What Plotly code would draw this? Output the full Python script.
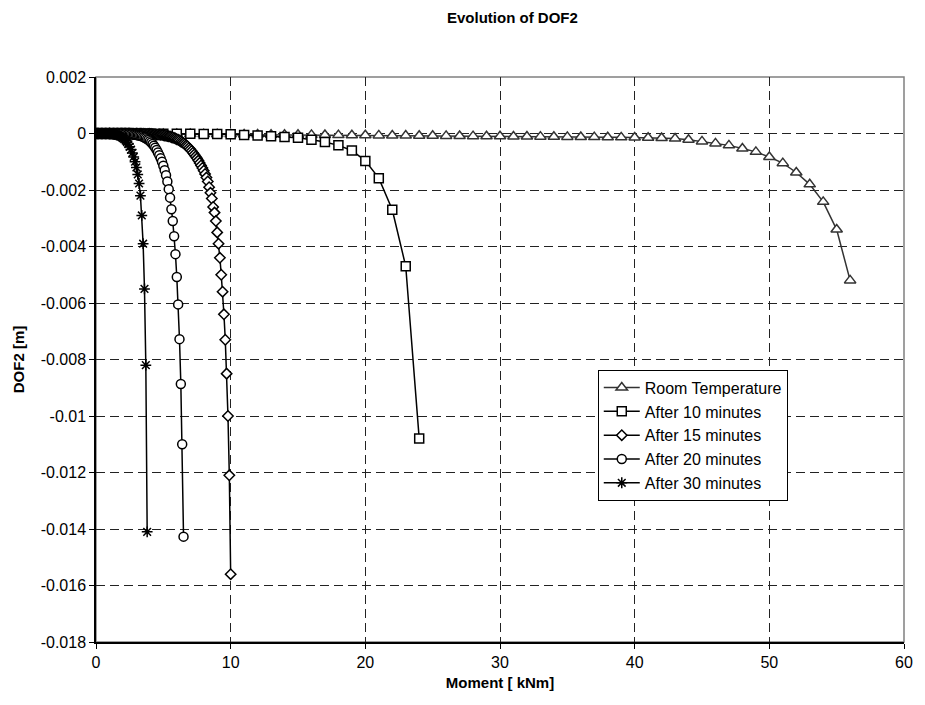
import plotly.graph_objects as go

# ---- data: moment [kNm] vs. DOF2 [m] ----
room_moment = [0, 1, 2, 3, 4, 5, 6, 7, 8, 9, 10, 11, 12, 13, 14, 15, 16, 17, 18, 19,
               20, 21, 22, 23, 24, 25, 26, 27, 28, 29, 30, 31, 32, 33, 34, 35, 36, 37,
               38, 39, 40, 41, 42, 43, 44, 45, 46, 47, 48, 49, 50, 51, 52, 53, 54, 55, 56]
room_dof2 = [0, -0.000003, -0.000006, -0.000009, -0.000012, -0.000015, -0.000018, -0.000021,
             -0.000024, -0.000027, -0.00003,
             -0.000033, -0.000036, -0.00004, -0.000043, -0.000046, -0.00005, -0.000053,
             -0.000057, -0.00006, -0.000064,
             -0.000067, -0.00007, -0.000074, -0.000078, -0.000081, -0.000085, -0.000089,
             -0.000093, -0.000096, -0.0001,
             -0.000104, -0.000108, -0.000112, -0.000116, -0.00012, -0.000124, -0.000128,
             -0.000132, -0.000137, -0.000142,
             -0.00015, -0.00016, -0.00018, -0.00022, -0.00028, -0.00035, -0.00042, -0.00053,
             -0.00065, -0.00083,
             -0.00105, -0.00138, -0.0018, -0.00242, -0.0034, -0.0052]

min10_moment = [0, 1, 2, 3, 4, 5, 6, 7, 8, 9, 10, 11, 12, 13, 14, 15, 16, 17, 18, 19,
                20, 21, 22, 23, 24]
min10_dof2 = [0, -0.000001, -0.000002, -0.000003, -0.000005, -0.000007, -0.00001, -0.000013,
              -0.000017, -0.000022, -0.00003, -0.00005, -0.00007, -0.0001, -0.00012, -0.00015,
              -0.00022, -0.0003, -0.00042, -0.0006, -0.00097, -0.00158, -0.0027, -0.0047, -0.0108]

min15_moment = [0.0, 0.1, 0.2, 0.3, 0.4, 0.5, 0.6, 0.7, 0.8, 0.9,
                1.0, 1.1, 1.2, 1.3, 1.4, 1.5, 1.6, 1.7, 1.8, 1.9,
                2.0, 2.1, 2.2, 2.3, 2.4, 2.5, 2.6, 2.7, 2.8, 2.9,
                3.0, 3.1, 3.2, 3.3, 3.4, 3.5, 3.6, 3.7, 3.8, 3.9,
                4.0, 4.1, 4.2, 4.3, 4.4, 4.5, 4.6, 4.7, 4.8, 4.9,
                5.0, 5.1, 5.2, 5.3, 5.4, 5.5, 5.6, 5.7, 5.8, 5.9,
                6.0, 6.1, 6.2, 6.3, 6.4, 6.5, 6.6, 6.7, 6.8, 6.9,
                7.0, 7.1, 7.2, 7.3, 7.4, 7.5, 7.6, 7.7, 7.8, 7.9,
                8.0, 8.1, 8.2, 8.3, 8.4, 8.5, 8.6, 8.7, 8.8, 8.9,
                9.0, 9.1, 9.2, 9.3, 9.4, 9.5, 9.6, 9.7, 9.8, 9.9, 10.0]
min15_dof2 = [0, 0, 0, 0, 0, 0, 0, 0, 0, 0,
              0, 0, 0, 0, 0, 0, 0, 0, 0, 0,
              -0.000001, -0.000001, -0.000002, -0.000002, -0.000003, -0.000003, -0.000004,
              -0.000005, -0.000006, -0.000007,
              -0.000008, -0.000009, -0.00001, -0.000011, -0.000012, -0.000013, -0.000014,
              -0.000015, -0.000016, -0.000018,
              -0.00002, -0.000022, -0.000024, -0.000026, -0.000029, -0.000032, -0.000035,
              -0.000039, -0.000043, -0.000048,
              -0.00006, -0.00007, -0.00008, -0.00009, -0.0001, -0.00011, -0.00013, -0.00014,
              -0.00016, -0.00018,
              -0.0002, -0.00022, -0.00025, -0.00028, -0.00031, -0.00034, -0.00038, -0.00042,
              -0.00046, -0.00051,
              -0.00056, -0.00062, -0.00068, -0.00074, -0.00081, -0.00088, -0.00096, -0.00104,
              -0.00113, -0.00122,
              -0.00132, -0.00143, -0.00156, -0.0017, -0.0019, -0.0021, -0.0023, -0.0026,
              -0.0028, -0.0031,
              -0.0035, -0.0039, -0.0044, -0.005, -0.0056, -0.0064, -0.0073, -0.0085, -0.01,
              -0.0121, -0.0156]

min20_moment = [0.0, 0.1, 0.2, 0.3, 0.4, 0.5, 0.6, 0.7, 0.8, 0.9,
                1.0, 1.1, 1.2, 1.3, 1.4, 1.5, 1.6, 1.7, 1.8, 1.9,
                2.0, 2.1, 2.2, 2.3, 2.4, 2.5, 2.6, 2.7, 2.8, 2.9,
                3.0, 3.1, 3.2, 3.3, 3.4, 3.5, 3.6, 3.7, 3.8, 3.9,
                4.0, 4.1, 4.2, 4.3, 4.4, 4.5, 4.6, 4.7, 4.8, 4.9,
                5.0, 5.1, 5.2, 5.3, 5.4, 5.5, 5.6, 5.7, 5.8, 5.9,
                6.0, 6.1, 6.2, 6.3, 6.4, 6.5]
min20_dof2 = [0, 0, 0, 0, 0, 0, 0, 0, 0, 0,
              0, 0, 0, 0, 0, 0, 0, 0, 0, 0,
              -0.000005, -0.000007, -0.00001, -0.000012, -0.000015, -0.00002, -0.000025,
              -0.00003, -0.000035, -0.00004,
              -0.00005, -0.00006, -0.00007, -0.00008, -0.0001, -0.00012, -0.00014, -0.00017,
              -0.0002, -0.00023,
              -0.00027, -0.00032, -0.00037, -0.00043, -0.0005, -0.00058, -0.00067, -0.00077,
              -0.00088, -0.001,
              -0.00114, -0.0013, -0.00148, -0.0017, -0.00197, -0.00227, -0.00268, -0.0031,
              -0.00364, -0.00427,
              -0.00508, -0.00605, -0.00728, -0.00887, -0.011, -0.01427]

min30_moment = [0.0, 0.1, 0.2, 0.3, 0.4, 0.5, 0.6, 0.7, 0.8, 0.9,
                1.0, 1.1, 1.2, 1.3, 1.4, 1.5, 1.6, 1.7, 1.8, 1.9,
                2.0, 2.1, 2.2, 2.3, 2.4, 2.5, 2.6, 2.7, 2.8, 2.9,
                3.0, 3.1, 3.2, 3.3, 3.4, 3.5, 3.6, 3.7, 3.8]
min30_dof2 = [0, 0, 0, 0, 0, 0, 0, 0, 0, 0,
              -0.00001, -0.00001, -0.00002, -0.00003, -0.00004, -0.00005, -0.00006, -0.00008,
              -0.0001, -0.00013,
              -0.00016, -0.0002, -0.00025, -0.00031, -0.00038, -0.00047, -0.00057, -0.00069,
              -0.00083, -0.001,
              -0.0012, -0.00145, -0.00177, -0.0022, -0.0029, -0.0039, -0.0055, -0.0082, -0.0141]

series_names = ["Room Temperature", "After 10 minutes", "After 15 minutes",
                "After 20 minutes", "After 30 minutes"]

x_tickvals = [0, 10, 20, 30, 40, 50, 60]
x_ticktext = ["0", "10", "20", "30", "40", "50", "60"]
y_tickvals = [0.002, 0, -0.002, -0.004, -0.006, -0.008, -0.01, -0.012, -0.014, -0.016, -0.018]
y_ticktext = ["0.002", "0", "-0.002", "-0.004", "-0.006", "-0.008", "-0.01", "-0.012",
              "-0.014", "-0.016", "-0.018"]

for xs, ys in [(room_moment, room_dof2), (min10_moment, min10_dof2),
               (min15_moment, min15_dof2), (min20_moment, min20_dof2),
               (min30_moment, min30_dof2)]:
    assert len(xs) == len(ys)

FONT = "Liberation Sans, Arial, sans-serif"

fig = go.Figure()

styles = [
    (room_moment, room_dof2, "#333333", dict(symbol="triangle-up", size=10, color="white",
                                             line=dict(color="#333333", width=1.5))),
    (min10_moment, min10_dof2, "black", dict(symbol="square", size=9, color="white",
                                             line=dict(color="black", width=1.5))),
    (min15_moment, min15_dof2, "black", dict(symbol="diamond", size=8, color="white",
                                             line=dict(color="black", width=1.5))),
    (min20_moment, min20_dof2, "black", dict(symbol="circle", size=9, color="white",
                                             line=dict(color="black", width=1.5))),
    (min30_moment, min30_dof2, "black", dict(symbol="asterisk-open", size=9, color="black",
                                             line=dict(color="black", width=1.5))),
]

for name, (xs, ys, lc, mk) in zip(series_names, styles):
    fig.add_trace(go.Scatter(x=xs, y=ys, mode="lines+markers", name=name,
                             line=dict(color=lc, width=1.5), marker=mk))

# grey frame on top/right of the plot area
fig.add_shape(type="rect", xref="paper", yref="paper", x0=0, x1=1, y0=0, y1=1,
              line=dict(color="#808080", width=1.5), layer="below")

fig.update_layout(
    width=925, height=705,
    margin=dict(l=96, r=12, t=77, b=63),
    paper_bgcolor="white", plot_bgcolor="white",
    font=dict(family=FONT, size=16, color="black"),
    showlegend=True,
    legend=dict(x=0.621, y=0.482, xanchor="left", yanchor="top",
                bgcolor="white", bordercolor="black", borderwidth=1,
                font=dict(family=FONT, size=16, color="black"),
                itemwidth=36, tracegroupgap=0),
    annotations=[dict(text="<b>Evolution of DOF2</b>", xref="paper", yref="paper",
                      x=0.515, y=1, yshift=60, xanchor="center", yanchor="middle",
                      showarrow=False, font=dict(family=FONT, size=15, color="black"))],
)

fig.update_xaxes(
    range=[0, 60], tickvals=x_tickvals, ticktext=x_ticktext,
    showline=True, linecolor="black", linewidth=1.5,
    ticks="outside", ticklen=5, tickcolor="black", tickwidth=1,
    showgrid=True, gridcolor="#222222", gridwidth=1, griddash="9px,5px",
    zeroline=False,
    title=dict(text="<b>Moment [ kNm]</b>", font=dict(family=FONT, size=15), standoff=8),
)
fig.update_yaxes(
    range=[-0.018, 0.002], tickvals=y_tickvals, ticktext=y_ticktext,
    showline=True, linecolor="black", linewidth=1.5,
    ticks="outside", ticklen=5, tickcolor="black", tickwidth=1,
    showgrid=True, gridcolor="#222222", gridwidth=1, griddash="9px,5px",
    zeroline=False,
    title=dict(text="<b>DOF2 [m]</b>", font=dict(family=FONT, size=15), standoff=12),
)

fig.write_html("out.html")
